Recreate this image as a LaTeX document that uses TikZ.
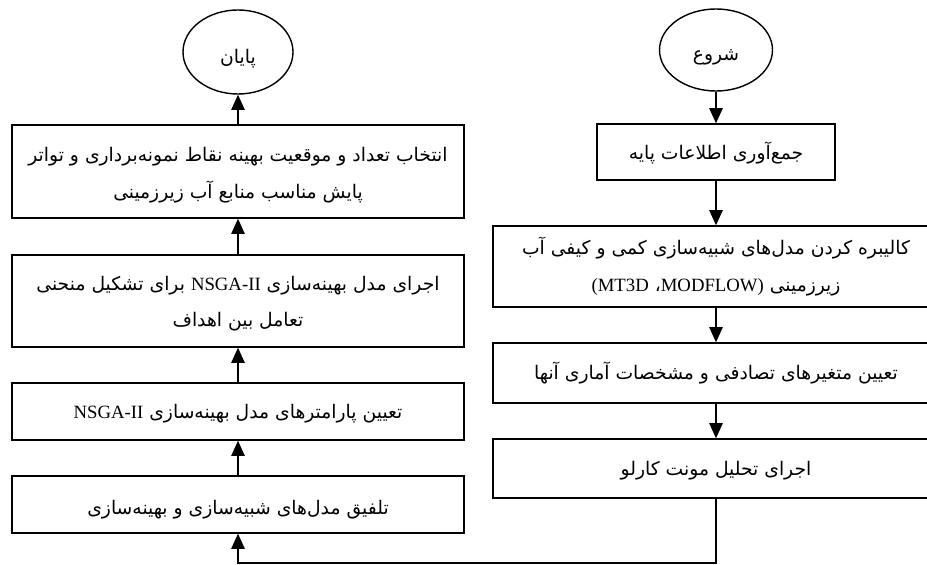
\documentclass[tikz,border=0pt]{standalone}
\usepackage{fontspec}
\usepackage{tikz}
\usetikzlibrary{arrows.meta}
\usetikzlibrary{shapes.geometric}
\newfontfamily\farsi[Script=Arabic]{DejaVu Sans}
\newfontfamily\latin{Liberation Serif}
\TeXXeTstate=1
\newcommand{\fa}[2][2pt]{\raisebox{-#1}[\height][\depth]{\beginR #2\endR}}
\newcommand{\en}[1]{\beginL{\latin #1}\endL}
\tikzstyle{stepbox}=[draw, line width=1.2pt, rectangle, align=center, inner sep=0pt,
  font=\farsi\fontsize{16}{31}\selectfont]
\tikzstyle{terminal}=[draw, line width=1.2pt, ellipse, inner sep=0pt,
  font=\farsi\fontsize{16}{31}\selectfont]
\tikzstyle{flow}=[line width=1.2pt, -{Triangle[length=13pt, width=11.5pt]}]

\begin{document}
\begin{tikzpicture}[x=0.03cm, y=-0.03cm]
    \useasboundingbox (0, 0) rectangle (927, 565);
    % right column, top to bottom
    \node (start) [terminal, minimum width={113*0.03cm}, minimum height={82*0.03cm}] at (716, 50) {\fa[6pt]{شروع}};
    \node (collect) [stepbox, minimum width={238*0.03cm}, minimum height={56*0.03cm}] at (716, 152) {\fa[1pt]{جمع‌آوری اطلاعات پایه}};
    \node (calib) [stepbox, minimum width={446*0.03cm}, minimum height={81*0.03cm}] at (716, 266.5)
        {\fa[0pt]{کالیبره کردن مدل‌های شبیه‌سازی کمی و کیفی آب}\\ \fa[0pt]{زیرزمینی \beginL{\latin (MT3D} ،{\latin MODFLOW)}\endL}};
    \node (random) [stepbox, minimum width={446*0.03cm}, minimum height={60*0.03cm}] at (716, 373) {\fa[0pt]{تعیین متغیرهای تصادفی و مشخصات آماری آنها}};
    \node (monte) [stepbox, minimum width={446*0.03cm}, minimum height={59*0.03cm}] at (716, 468.5) {\fa{اجرای تحلیل مونت کارلو}};
    % left column, bottom to top
    \node (couple) [stepbox, minimum width={452*0.03cm}, minimum height={57*0.03cm}] at (238, 504.5) {\fa[4pt]{تلفیق مدل‌های شبیه‌سازی و بهینه‌سازی}};
    \node (params) [stepbox, minimum width={452*0.03cm}, minimum height={57*0.03cm}] at (238, 411.5) {\fa{تعیین پارامترهای مدل بهینه‌سازی \en{NSGA-II}}};
    \node (run) [stepbox, minimum width={452*0.03cm}, minimum height={92*0.03cm}] at (238, 301)
        {\fa{اجرای مدل بهینه‌سازی \en{NSGA-II} برای تشکیل منحنی}\\ \fa{تعامل بین اهداف}};
    \node (select) [stepbox, minimum width={452*0.03cm}, minimum height={93*0.03cm}] at (238, 171.5)
        {\fa[3pt]{انتخاب تعداد و موقعیت بهینه نقاط نمونه‌برداری و تواتر}\\ \fa[3pt]{پایش مناسب منابع آب زیرزمینی}};
    \node (finish) [terminal, minimum width={110*0.03cm}, minimum height={84*0.03cm}] at (238, 52) {\fa[6pt]{پایان}};
    \coordinate (turn) at (716, 563);
    \draw [flow] (start) -- (collect);
    \draw [flow] (collect) -- (calib);
    \draw [flow] (calib) -- (random);
    \draw [flow] (random) -- (monte);
    \draw [flow] (monte) -- (turn) -| (couple);
    \draw [flow] (couple) -- (params);
    \draw [flow] (params) -- (run);
    \draw [flow] (run) -- (select);
    \draw [flow] (select) -- (finish);
  \end{tikzpicture}
\end{document}
